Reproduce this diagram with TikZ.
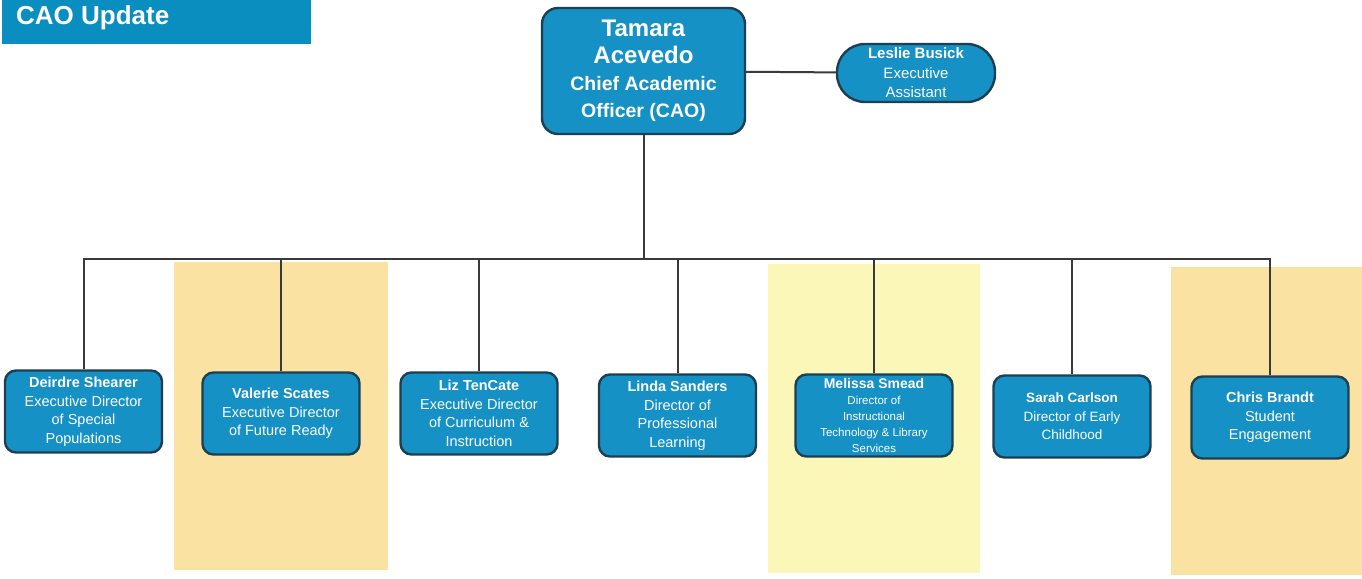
\documentclass[tikz,border=0pt]{standalone}
\usepackage{fontspec}
\setmainfont{Liberation Sans}
\usetikzlibrary{calc}

\definecolor{boxblue}{HTML}{1591C5}
\definecolor{boxedge}{HTML}{1E3F52}
\definecolor{titleblue}{HTML}{0A8EBF}
\definecolor{tanband}{HTML}{F9E2A2}
\definecolor{lemonband}{HTML}{FAF7B9}
\definecolor{linkgrey}{HTML}{3A3A3A}

\tikzset{
	staff/.style={draw=boxedge, line width=2.4pt, fill=boxblue, text=white, rounded corners=11pt,
		minimum width=157pt, minimum height=82pt, align=center, inner sep=2pt,
		font=\fontsize{14.5}{18.5}\selectfont},
	link/.style={draw=linkgrey, line width=2pt},
}

\begin{document}
\begin{tikzpicture}[x=1pt, y=-1pt]
			%%%%% START %%%%%
			\useasboundingbox (0, 0) rectangle (1362, 578);
			
			% highlight bands
			\fill[tanband] (174, 262) rectangle (388, 570);
			\fill[lemonband] (768, 264) rectangle (980, 573);
			\fill[tanband] (1171, 267) rectangle (1362, 575);
			
			% title
			\fill[titleblue] (2, 0) rectangle (311, 44);
			\node[anchor=base west, inner sep=0pt, text=white, font=\fontsize{26}{28}\selectfont\bfseries] (title) at (16, 25) {CAO Update};
			
			% top
			\node[staff, rounded corners=16pt, minimum width=203pt, minimum height=126pt,
				font=\fontsize{19.5}{27}\selectfont\bfseries] (cao) at (643.5, 71)
				{{\fontsize{24}{31}\selectfont Tamara}\\{\fontsize{24}{31}\selectfont Acevedo}\\Chief Academic\\Officer (CAO)};
			\node[staff, rounded corners=28pt, minimum width=158pt, minimum height=58pt,
				font=\fontsize{15}{19.5}\selectfont] (leslie) at (916, 73)
				{\textbf{Leslie Busick}\\Executive\\Assistant};
			
			% bottom row
			\node[staff] (deirdre) at (83.5, 411.5) {\textbf{Deirdre Shearer}\\Executive Director\\of Special\\Populations};
			\node[staff] (valerie) at (281, 413.5) {\textbf{Valerie Scates}\\Executive Director\\of Future Ready};
			\node[staff] (liz) at (479, 413.5) {\textbf{Liz TenCate}\\Executive Director\\of Curriculum \&\\Instruction};
			\node[staff] (linda) at (677.5, 415.5) {\textbf{Linda Sanders}\\Director of\\Professional\\Learning};
			\node[staff, font=\fontsize{11.5}{16}\selectfont] (melissa) at (874, 415.5)
				{{\fontsize{14}{16}\selectfont\bfseries Melissa Smead}\\Director of\\Instructional\\Technology \& Library\\Services};
			\node[staff, font=\fontsize{13.5}{18.5}\selectfont] (sarah) at (1072, 416.5) {\textbf{Sarah Carlson}\\Director of Early\\Childhood};
			\node[staff] (chris) at (1270, 417.5) {\textbf{Chris Brandt}\\Student\\Engagement};
			
			% links
			\coordinate (bus) at (643.5, 259);
			\draw[link] (cao) -- (leslie);
			\draw[link] (cao.south) -- (bus);
			\foreach \who in {deirdre, valerie, liz, linda, melissa, sarah, chris}
				\draw[link] (\who.north) |- (bus);
			
			%%%%% END %%%%%
\end{tikzpicture}
\end{document}
